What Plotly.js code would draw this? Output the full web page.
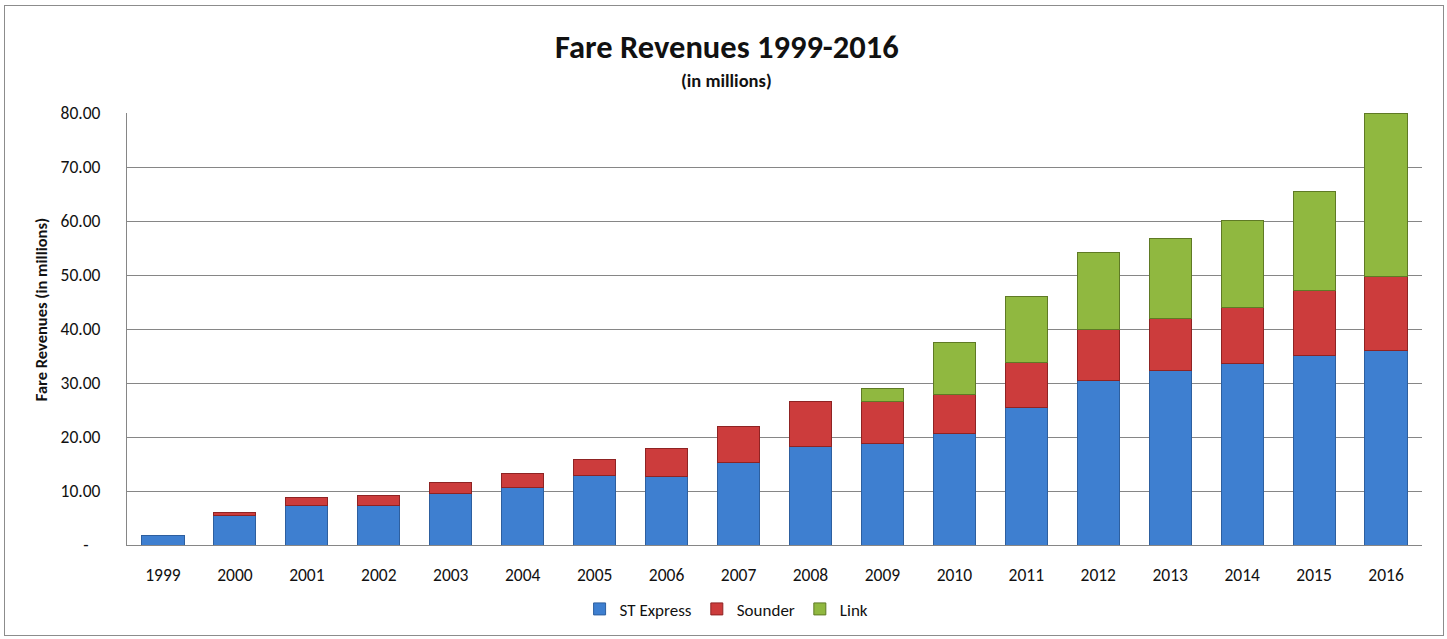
<!DOCTYPE html>
<html>
<head>
<meta charset="utf-8">
<script src="https://cdn.plot.ly/plotly-3.0.1.min.js"></script>
<style>
  html, body { margin: 0; padding: 0; background: #fff; }
  #frame { position: absolute; left: 4px; top: 5px; width: 1440px; height: 631px; border: 1px solid #8c8c8c; box-sizing: border-box; pointer-events: none; z-index: 2; }
  #chart { position: absolute; left: 0; top: 0; width: 1447px; height: 639px; }
</style>
</head>
<body>
<div id="chart"></div>
<div id="frame"></div>
<script>
const years = ["1999","2000","2001","2002","2003","2004","2005","2006","2007","2008","2009","2010","2011","2012","2013","2014","2015","2016"];
const stExpress = [1.8, 5.5, 7.3, 7.4, 9.6, 10.7, 12.9, 12.7, 15.35, 18.2, 18.8, 20.6, 25.55, 30.5, 32.35, 33.6, 35.1, 36.0];
const sounder   = [null, 0.5, 1.5, 1.75, 1.9, 2.45, 3.0, 5.2, 6.6, 8.35, 7.7, 7.2, 8.25, 9.4, 9.55, 10.4, 12.0, 13.7];
const link      = [null, null, null, null, null, null, null, null, null, null, 2.4, 9.75, 12.2, 14.2, 14.9, 16.1, 18.3, 30.3];
const yTickVals = [0, 10, 20, 30, 40, 50, 60, 70, 80];
const yTickText = ["-\u00a0\u00a0\u00a0", "10.00", "20.00", "30.00", "40.00", "50.00", "60.00", "70.00", "80.00"];

const FONT = "Carlito, Lato, 'Open Sans', sans-serif";

function series(name, vals, color, line) {
  return {
    type: "bar", name: name, x: years, y: vals,
    marker: { color: color, line: { color: line, width: 1 } },
    hoverinfo: "x+y+name"
  };
}

const data = [
  series("ST Express", stExpress, "#3e7fd0", "#2d5f9f"),
  series("Sounder", sounder, "#cc3c3c", "#8f2323"),
  series("Link", link, "#90b840", "#5f7a25")
];

const layout = {
  width: 1447, height: 639,
  margin: { l: 127, r: 24.5, t: 113, b: 90, pad: 0 },
  paper_bgcolor: "#ffffff", plot_bgcolor: "#ffffff",
  barmode: "stack", bargap: 0.415,
  font: { family: FONT, size: 18, color: "#111" },
  showlegend: true,
  legend: {
    orientation: "h", x: 0.463, xanchor: "center", y: -0.149, yanchor: "middle",
    font: { family: FONT, size: 17, color: "#111" }, traceorder: "normal",
    itemwidth: 30
  },
  xaxis: {
    type: "category", showgrid: false, zeroline: false,
    showline: true, linecolor: "#868686", linewidth: 1,
    ticks: "", tickfont: { family: FONT, size: 17.5, color: "#111" },
    ticklabelstandoff: 14
  },
  yaxis: {
    range: [0, 80], tickvals: yTickVals, ticktext: yTickText,
    showgrid: true, gridcolor: "#868686", gridwidth: 1,
    zeroline: false, showline: true, linecolor: "#868686", linewidth: 1,
    ticks: "", tickfont: { family: FONT, size: 17.5, color: "#111" },
    ticklabelstandoff: 22
  },
  annotations: [
    { text: "<b>Fare Revenues 1999-2016</b>", xref: "paper", yref: "paper",
      x: 0.463, xanchor: "center", y: (549 - 46) / 436, yanchor: "middle", showarrow: false,
      font: { family: FONT, size: 32.5, color: "#111" } },
    { text: "<b>(in millions)</b>", xref: "paper", yref: "paper",
      x: 0.463, xanchor: "center", y: (549 - 80) / 436, yanchor: "middle", showarrow: false,
      font: { family: FONT, size: 18.5, color: "#111" } },
    { text: "<b>Fare Revenues (in millions)</b>", xref: "paper", yref: "paper",
      x: (41 - 127) / 1295.5, xanchor: "center", y: (549 - 312) / 436, yanchor: "middle",
      textangle: -90, showarrow: false,
      font: { family: FONT, size: 16.5, color: "#111" } }
  ]
};

Plotly.newPlot("chart", data, layout, { displayModeBar: false, staticPlot: true });
</script>
</body>
</html>
